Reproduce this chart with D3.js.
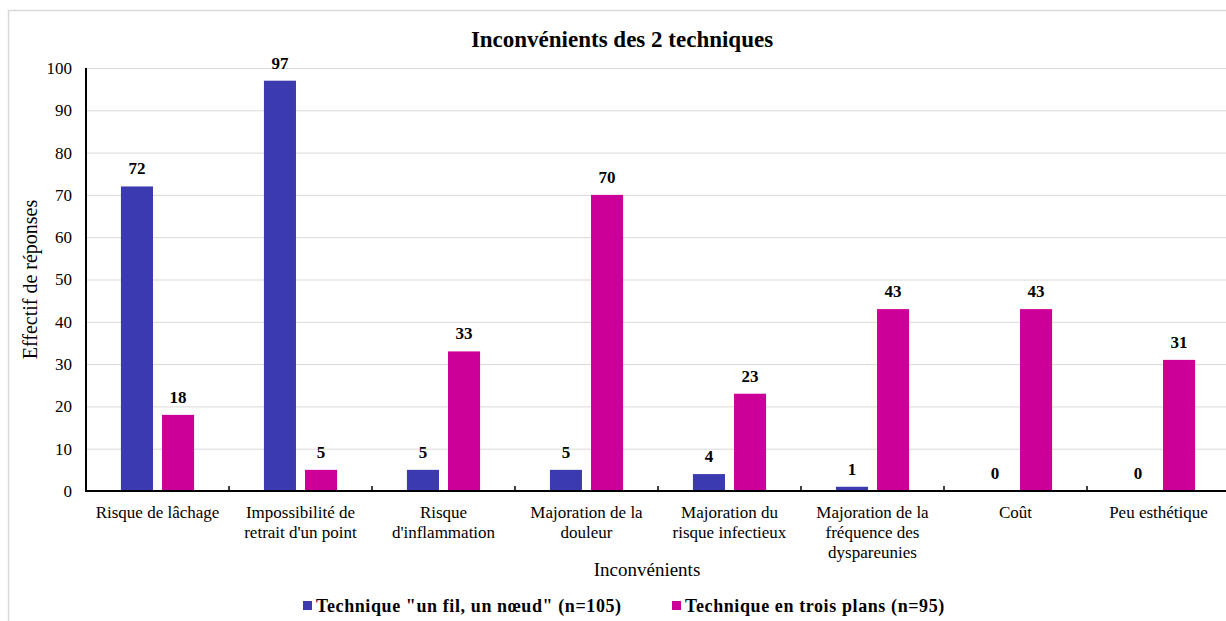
<!DOCTYPE html>
<html>
<head>
<meta charset="utf-8">
<script src="https://cdn.jsdelivr.net/npm/d3@7"></script>
<style>
  body { margin: 0; background: #fff; }
</style>
</head>
<body>
<svg width="1226" height="621"></svg>
<script>
// data
const categories = [
  'Risque de lâchage',
  "Impossibilité de\nretrait d'un point",
  "Risque\nd'inflammation",
  'Majoration de la\ndouleur',
  'Majoration du\nrisque infectieux',
  'Majoration de la\nfréquence des\ndyspareunies',
  'Coût',
  'Peu esthétique'
];
const seriesNames = ['Technique "un fil, un nœud" (n=105)', 'Technique en trois plans (n=95)'];
const unFilValues = [72, 97, 5, 5, 4, 1, 0, 0];
const troisPlansValues = [18, 5, 33, 70, 23, 43, 43, 31];
const yTicks = [0, 10, 20, 30, 40, 50, 60, 70, 80, 90, 100];
const colors = ['#3b3baf', '#cc0099'];

const svg = d3.select('svg')
  .attr('font-family', '"Liberation Serif", "Times New Roman", Times, serif');
const margin = { left: 86, top: 68, right: 1230, bottom: 491 };

// outer frame
svg.append('rect')
  .attr('x', 8.5).attr('y', 10.5)
  .attr('width', 1230).attr('height', 640)
  .attr('fill', 'none').attr('stroke', '#d9d9d9').attr('stroke-width', 1.5);

const x0 = d3.scaleBand()
  .domain(categories)
  .range([margin.left, margin.right]);

const x1 = d3.scaleBand()
  .domain([0, 1])
  .range([0, x0.bandwidth()])
  .paddingInner(0.22)
  .paddingOuter(0.85);

const y = d3.scaleLinear()
  .domain([0, 100])
  .range([margin.bottom, margin.top]);

// gridlines
svg.append('g').selectAll('line')
  .data(yTicks.filter(d => d > 0))
  .join('line')
  .attr('x1', margin.left).attr('x2', margin.right)
  .attr('y1', d => y(d) + 0.5).attr('y2', d => y(d) + 0.5)
  .attr('stroke', '#d9d9d9').attr('stroke-width', 1);

// y tick labels
svg.append('g').selectAll('text')
  .data(yTicks)
  .join('text')
  .attr('x', 72)
  .attr('y', d => y(d))
  .attr('dy', '0.35em')
  .attr('text-anchor', 'end')
  .attr('font-size', 17)
  .attr('fill', '#000')
  .text(d => d);

// bars
const rows = categories.map((c, i) => ({ cat: c, vals: [unFilValues[i], troisPlansValues[i]] }));

const groups = svg.append('g').selectAll('g')
  .data(rows)
  .join('g')
  .attr('transform', d => `translate(${x0(d.cat)},0)`);

groups.selectAll('rect')
  .data(d => d.vals.map((v, k) => ({ v, k })))
  .join('rect')
  .attr('x', d => x1(d.k))
  .attr('width', x1.bandwidth())
  .attr('y', d => y(d.v))
  .attr('height', d => y(0) - y(d.v))
  .attr('fill', d => colors[d.k]);

groups.selectAll('text')
  .data(d => d.vals.map((v, k) => ({ v, k })))
  .join('text')
  .attr('x', d => x1(d.k) + x1.bandwidth() / 2)
  .attr('y', d => y(d.v) - 12)
  .attr('text-anchor', 'middle')
  .attr('font-size', 17)
  .attr('font-weight', 'bold')
  .text(d => d.v);

// axes lines
svg.append('line')
  .attr('x1', margin.left).attr('x2', margin.left)
  .attr('y1', margin.top).attr('y2', margin.bottom + 1)
  .attr('stroke', '#000').attr('stroke-width', 2);

svg.append('line')
  .attr('x1', margin.left - 1).attr('x2', margin.right)
  .attr('y1', margin.bottom).attr('y2', margin.bottom)
  .attr('stroke', '#000').attr('stroke-width', 2);

svg.append('g').selectAll('line')
  .data(categories.slice(1))
  .join('line')
  .attr('x1', d => x0(d)).attr('x2', d => x0(d))
  .attr('y1', margin.bottom - 5).attr('y2', margin.bottom)
  .attr('stroke', '#000').attr('stroke-width', 1.5);

// category labels
svg.append('g').selectAll('text')
  .data(categories)
  .join('text')
  .attr('text-anchor', 'middle')
  .attr('font-size', 17)
  .attr('y', 518)
  .each(function (d) {
    const cx = x0(d) + x0.bandwidth() / 2;
    d3.select(this).selectAll('tspan')
      .data(d.split('\n'))
      .join('tspan')
      .attr('x', cx)
      .attr('dy', (t, i) => i === 0 ? 0 : 20)
      .text(t => t);
  });

// titles
svg.append('text')
  .attr('x', 622).attr('y', 47)
  .attr('text-anchor', 'middle')
  .attr('font-size', 23)
  .attr('font-weight', 'bold')
  .text('Inconvénients des 2 techniques');

svg.append('text')
  .attr('x', 647).attr('y', 576)
  .attr('text-anchor', 'middle')
  .attr('font-size', 19)
  .text('Inconvénients');

svg.append('text')
  .attr('transform', `translate(37,${(margin.top + margin.bottom) / 2}) rotate(-90)`)
  .attr('text-anchor', 'middle')
  .attr('font-size', 20)
  .text('Effectif de réponses');

// legend
const legendX = [303, 672];
const legend = svg.append('g').selectAll('g')
  .data(seriesNames)
  .join('g')
  .attr('transform', (d, i) => `translate(${legendX[i]},0)`);

legend.append('rect')
  .attr('x', 0).attr('y', 601)
  .attr('width', 9).attr('height', 9)
  .attr('fill', (d, i) => colors[i]);

legend.append('text')
  .attr('x', 13).attr('y', 612)
  .attr('font-size', 18)
  .attr('font-weight', 'bold')
  .attr('letter-spacing', 0.6)
  .text(d => d);
</script>
</body>
</html>
